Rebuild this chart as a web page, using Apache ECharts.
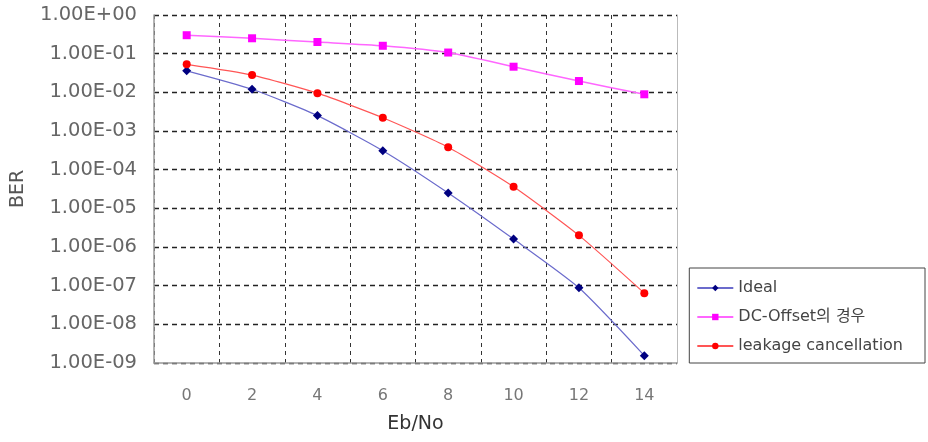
<!DOCTYPE html>
<html>
<head>
<meta charset="utf-8">
<script src="https://cdn.jsdelivr.net/npm/echarts@6/dist/echarts.min.js"></script>
<style>
  html, body { margin: 0; padding: 0; background: #fff; }
  #main { width: 928px; height: 442px; }
</style>
</head>
<body>
<div id="main"></div>
<script>
const ebNo = ['0', '2', '4', '6', '8', '10', '12', '14'];
const ideal = [3.6e-2, 1.2e-2, 2.5e-3, 3.1e-4, 2.5e-5, 1.6e-6, 8.8e-8, 1.55e-9];
const dcOffset = [0.30, 0.25, 0.20, 0.16, 0.107, 0.046, 0.0196, 0.0089];
const leakage = [5.3e-2, 2.8e-2, 9.5e-3, 2.2e-3, 3.8e-4, 3.6e-5, 2.0e-6, 6.4e-8];
const seriesNames = ['Ideal', 'DC-Offset의 경우', 'leakage cancellation'];

var chartDom = document.getElementById('main');
var myChart = echarts.init(chartDom);

function sciLabel(v) {
  var k = Math.round(Math.log10(v));
  var s = k >= 0 ? '+' : '-';
  var a = Math.abs(k);
  return '1.00E' + s + (a < 10 ? '0' + a : a);
}

const font = "'DejaVu Sans', 'Noto Sans CJK KR', sans-serif";

var option = {
  animation: false,
  textStyle: { fontFamily: font },
  grid: { left: 154, right: 251, top: 15, bottom: 79, outerBoundsMode: 'none' },
  legend: {
    orient: 'vertical',
    right: 3,
    top: 268,
    padding: [12, 22, 9, 7],
    itemGap: 13,
    itemWidth: 36,
    itemHeight: 8,
    borderColor: '#444',
    borderWidth: 1,
    textStyle: { fontSize: 16, color: '#444', fontFamily: font },
    data: seriesNames
  },
  xAxis: {
    type: 'category',
    data: ebNo,
    boundaryGap: true,
    name: 'Eb/No',
    nameLocation: 'middle',
    nameGap: 52,
    nameTextStyle: { fontSize: 19, color: '#333' },
    axisLine: { lineStyle: { color: '#999', width: 1.5 } },
    axisTick: { show: false },
    axisLabel: { fontSize: 16, color: '#777', margin: 25 },
    splitLine: { show: true, lineStyle: { color: '#333', type: [4, 4], width: 1 } }
  },
  yAxis: [
    {
      type: 'log',
      logBase: 10,
      min: 1e-9,
      max: 1,
      name: 'BER',
      nameLocation: 'middle',
      nameGap: 126,
      nameTextStyle: { fontSize: 19, color: '#555' },
      axisLine: { show: true, lineStyle: { color: '#999', width: 1.5 } },
      axisTick: { show: false },
      axisLabel: { fontSize: 19.5, color: '#666', margin: 17, formatter: sciLabel },
      splitLine: { show: true, lineStyle: { color: '#222', type: [5, 4], width: 1.4 } }
    },
    {
      type: 'log',
      logBase: 10,
      min: 1e-9,
      max: 1,
      position: 'right',
      axisLine: { show: true, lineStyle: { color: '#bbb', width: 1 } },
      axisTick: { show: false },
      axisLabel: { show: false },
      splitLine: { show: false }
    }
  ],
  series: [
    {
      name: seriesNames[0],
      type: 'line',
      data: ideal,
      smooth: 0.2,
      symbol: 'diamond',
      symbolSize: 9,
      itemStyle: { color: '#000080' },
      lineStyle: { color: '#6b6bcc', width: 1.2 }
    },
    {
      name: seriesNames[1],
      type: 'line',
      data: dcOffset,
      smooth: 0.2,
      symbol: 'rect',
      symbolSize: 8,
      itemStyle: { color: '#ff00ff' },
      lineStyle: { color: '#ff66ff', width: 1.5 }
    },
    {
      name: seriesNames[2],
      type: 'line',
      data: leakage,
      smooth: 0.2,
      symbol: 'circle',
      symbolSize: 8,
      itemStyle: { color: '#ff0000' },
      lineStyle: { color: '#ff5555', width: 1.2 }
    }
  ]
};
myChart.setOption(option);
</script>
</body>
</html>
